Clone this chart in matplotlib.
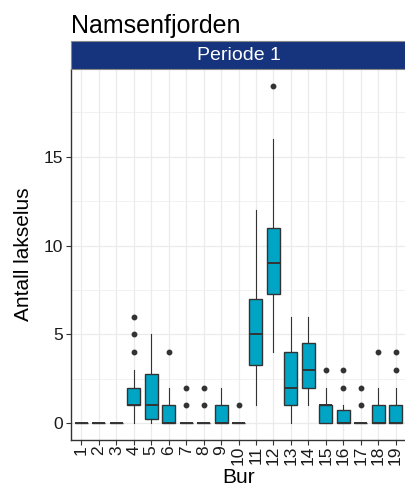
import matplotlib
matplotlib.use("Agg")
import matplotlib.pyplot as plt
from matplotlib.patches import Rectangle
from matplotlib.ticker import MultipleLocator

plt.rcParams['font.family'] = ['Liberation Sans', 'DejaVu Sans']

# box statistics, one entry per cage ("Bur")
bur = list(range(1, 20))
q1 = [0, 0, 0, 1, 0.25, 0, 0, 0, 0, 0, 3.25, 7.25, 1, 2, 0, 0, 0, 0, 0]
med = [0, 0, 0, 1, 1, 0, 0, 0, 0, 0, 5, 9, 2, 3, 1, 0, 0, 0, 0]
q3 = [0, 0, 0, 2, 2.75, 1, 0, 0, 1, 0, 7, 11, 4, 4.5, 1, 0.75, 0, 1, 1]
whislo = [0, 0, 0, 0, 0, 0, 0, 0, 0, 0, 1, 4, 0, 1, 0, 0, 0, 0, 0]
whishi = [0, 0, 0, 3, 5, 2, 0, 0, 2, 0, 12, 16, 6, 6, 2, 1, 0, 2, 2]
fliers = [[], [], [], [4, 5, 6], [], [4], [1, 2], [1, 2], [], [1],
          [], [19], [], [], [3], [2, 3], [1, 2], [4], [3, 4]]

title = "Namsenfjorden"
strip_label = "Periode 1"

box_fill = '#00A5C6'
strip_fill = '#16347D'
dark = '#333333'

fig = plt.figure(figsize=(4.06, 4.91), dpi=100)
ax = fig.add_axes([0.1749, 0.1039, 0.8251, 0.7556])

stats = []
for i in range(len(bur)):
    stats.append(dict(med=med[i], q1=q1[i], q3=q3[i], whislo=whislo[i],
                      whishi=whishi[i], fliers=fliers[i], label=str(bur[i])))

ax.bxp(stats, positions=bur, widths=0.75, patch_artist=True, showcaps=False,
       boxprops=dict(facecolor=box_fill, edgecolor=dark, linewidth=1.0),
       medianprops=dict(color=dark, linewidth=1.4),
       whiskerprops=dict(color=dark, linewidth=0.8),
       flierprops=dict(marker='o', markersize=3.2, markerfacecolor=dark,
                       markeredgecolor=dark), zorder=3)

ax.set_xlim(0.4, 19.6)
ax.set_ylim(-0.95, 19.95)
ax.yaxis.set_major_locator(MultipleLocator(5))
ax.yaxis.set_minor_locator(MultipleLocator(2.5))
ax.set_xticks(bur)
ax.set_xticklabels([str(b) for b in bur], rotation=90)

ax.grid(which='major', color='#EBEBEB', linewidth=0.9, zorder=0)
ax.grid(which='minor', axis='y', color='#EBEBEB', linewidth=0.5, zorder=0)
ax.set_axisbelow(True)
ax.tick_params(which='minor', length=0)
ax.tick_params(which='major', length=3.5, color=dark, width=0.8,
               labelsize=12.5, labelcolor='#1A1A1A', pad=2)
ax.tick_params(axis='x', pad=0.5)

for s in ['top', 'right']:
    ax.spines[s].set_visible(False)
for s in ['left', 'bottom']:
    ax.spines[s].set_color(dark)
    ax.spines[s].set_linewidth(1.0)

ax.set_xlabel("Bur", fontsize=15, labelpad=2)
ax.set_ylabel("Antall lakselus", fontsize=15, labelpad=8)

# facet strip
strip = Rectangle((0.1749, 0.8595), 0.8251, 27.5 / 491, transform=fig.transFigure,
                  facecolor=strip_fill, edgecolor='#888888', linewidth=0.8)
fig.patches.append(strip)
fig.text(0.1749 + 0.8251 / 2, 0.8595 + 13.5 / 491, strip_label, color='white',
         fontsize=14, ha='center', va='center')

fig.text(0.1749, 0.933, title, fontsize=18, ha='left', va='baseline')

fig.savefig("out.png", dpi=100)
